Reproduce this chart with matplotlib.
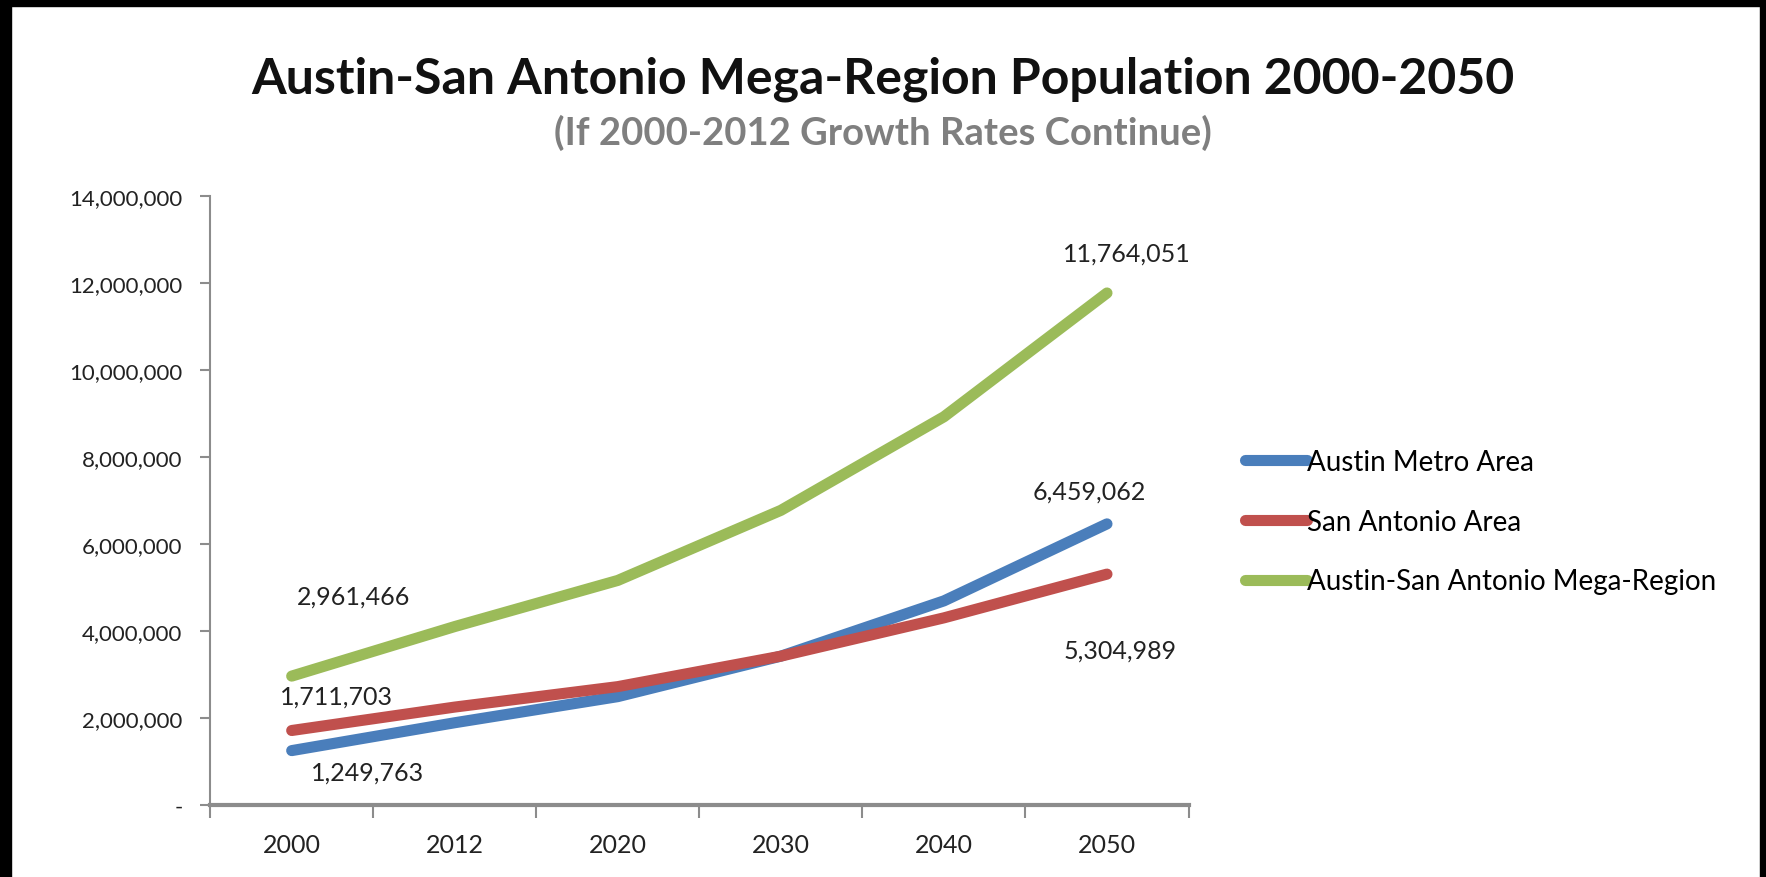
import matplotlib.pyplot as plt
from matplotlib.patches import Rectangle
from matplotlib.ticker import FuncFormatter, FixedLocator

plt.rcParams['font.family'] = ['Lato', 'DejaVu Sans']

years = ['2000', '2012', '2020', '2030', '2040', '2050']
austin = [1249763, 1890000, 2490000, 3420000, 4690000, 6459062]
san_antonio = [1711703, 2250000, 2720000, 3420000, 4300000, 5304989]
mega_region = [2961466, 4100000, 5160000, 6770000, 8920000, 11764051]

series_names = ['Austin Metro Area', 'San Antonio Area', 'Austin-San Antonio Mega-Region']
series_colors = ['#4a7ebb', '#c0504d', '#9bbb59']

fig = plt.figure(figsize=(17.66, 8.78), dpi=100)
ax = fig.add_axes([0.119, 0.082, 0.554, 0.694])

x = list(range(len(years)))
for vals, name, col in zip([austin, san_antonio, mega_region], series_names, series_colors):
    ax.plot(x, vals, color=col, lw=8, solid_capstyle='round', label=name)

ax.set_xlim(-0.5, 5.5)
ax.set_ylim(0, 14000000)
ax.set_yticks(range(0, 14000001, 2000000))
ax.yaxis.set_major_formatter(FuncFormatter(lambda v, p: '-' if v == 0 else f'{int(v):,}'))
ax.set_xticks(x)
ax.set_xticklabels(years)
ax.xaxis.set_minor_locator(FixedLocator([i - 0.5 for i in range(len(years) + 1)]))
ax.tick_params(axis='x', which='major', length=0, pad=20, labelsize=18, colors='#222222')
ax.tick_params(axis='x', which='minor', length=9, width=1.5, color='#8c8c8c')
ax.tick_params(axis='y', length=7, width=1.5, color='#8c8c8c', labelsize=16,
               labelcolor='#222222', pad=13)

for side in ['top', 'right']:
    ax.spines[side].set_visible(False)
ax.spines['left'].set_color('#8c8c8c')
ax.spines['left'].set_linewidth(1.5)
ax.spines['bottom'].set_color('#8c8c8c')
ax.spines['bottom'].set_linewidth(3)

# end-point value labels
labels = [
    (0, austin[0], 76, -21),
    (5, austin[5], -18, 33),
    (0, san_antonio[0], 45, 34),
    (5, san_antonio[5], 13, -76),
    (0, mega_region[0], 62, 80),
    (5, mega_region[5], 20, 40),
]
for xi, v, dx, dy in labels:
    ax.annotate(f'{v:,}', (xi, v), xytext=(dx, dy), textcoords='offset pixels',
                ha='center', va='center', fontsize=18, color='#222222')

ax.legend(loc='upper left', bbox_to_anchor=(1245 / 1766, 1 - 450 / 878),
          bbox_transform=fig.transFigure, frameon=False, fontsize=20,
          borderpad=0, borderaxespad=0,
          handlelength=2.23, handletextpad=0.0, labelspacing=1.21)

fig.text(0.5, 1 - 79 / 878, 'Austin-San Antonio Mega-Region Population 2000-2050',
         ha='center', va='center', fontsize=36, fontweight='bold', color='#111111')
fig.text(0.5, 1 - 133 / 878, '(If 2000-2012 Growth Rates Continue)',
         ha='center', va='center', fontsize=27.5, fontweight='bold', color='#7f7f7f')

# dark frame around the slide
for (x0, y0, w, h) in [(0, 0, 11, 878), (0, 871, 1766, 7), (1760, 0, 6, 878)]:
    fig.patches.append(Rectangle((x0 / 1766, y0 / 878), w / 1766, h / 878,
                                 transform=fig.transFigure, color='black', zorder=10))

fig.savefig('out.png', dpi=100, facecolor='white')
